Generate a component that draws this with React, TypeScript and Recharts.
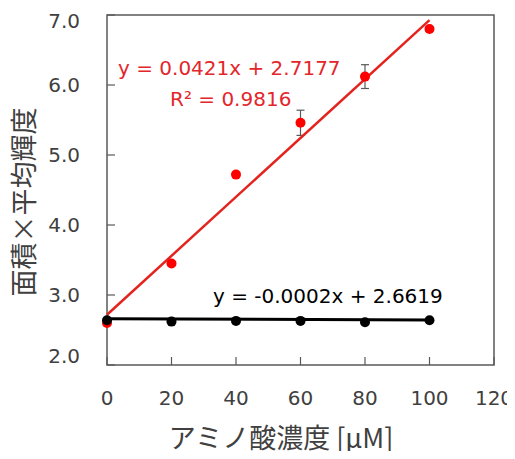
import React from "react";
import {
  ComposedChart,
  Scatter,
  ErrorBar,
  XAxis,
  YAxis,
  ReferenceArea,
} from "recharts";

// measured points (concentration, value, error)
const concentrations = [0, 20, 40, 60, 80, 100];
const redValues = [2.6, 3.45, 4.72, 5.46, 6.12, 6.8];
const redErrors = [0.03, 0.03, 0.03, 0.18, 0.17, 0.03];
const blackValues = [2.64, 2.62, 2.63, 2.63, 2.61, 2.64];
const blackErrors = [0.02, 0.02, 0.02, 0.02, 0.02, 0.02];

// linear trend lines, endpoints from the printed equations
const redTrend = [
  { x: 0, y: 2.7177 },
  { x: 100, y: 6.9277 },
];
const blackTrend = [
  { x: 0, y: 2.6619 },
  { x: 100, y: 2.6419 },
];

const xTicks = [0, 20, 40, 60, 80, 100, 120];
const yTicks = [2, 3, 4, 5, 6, 7];

const redData = concentrations.map((x, i) => ({ x, y: redValues[i], err: redErrors[i] }));
const blackData = concentrations.map((x, i) => ({ x, y: blackValues[i], err: blackErrors[i] }));

const RED = "#ff0000";
const RED_LINE = "#e3231e";
const RED_TEXT = "#e3262b";
const AXIS = "#595959";
const TEXT = "#404040";
const FONT = "'DejaVu Sans', sans-serif";
const CJK = "'Noto Sans CJK JP', sans-serif";

const W = 507;
const H = 443;

const dot = (fill: string, r: number) => (props: any) =>
  <circle cx={props.cx} cy={props.cy} r={r} fill={fill} />;

// end labels are kept inside the axis range, like the original
const YTick = (props: any) => {
  const v = Number(props.payload.value);
  const shift = v === 7 ? 4 : v === 2 ? -9 : 0;
  return (
    <text x={72} y={props.y + shift} dy="0.355em" textAnchor="end" fill={TEXT} fontSize={20} fontFamily={FONT}>
      {v.toFixed(1)}
    </text>
  );
};

export default function App() {
  return (
    <div style={{ position: "relative", width: W, height: H }}>
      <ComposedChart
        width={W}
        height={H}
        margin={{ top: 7, right: 21, left: 39, bottom: 26 }}>
        <XAxis
          type="number"
          dataKey="x"
          domain={[0, 120]}
          ticks={xTicks}
          height={60}
          axisLine={false}
          tickLine={{ stroke: AXIS, strokeWidth: 1.2 }}
          tickSize={-8}
          tickMargin={34}
          tick={{ fill: TEXT, fontSize: 20, fontFamily: FONT }} />
        <YAxis
          type="number"
          dataKey="y"
          domain={[2, 7]}
          ticks={yTicks}
          width={60}
          axisLine={false}
          tickLine={{ stroke: AXIS, strokeWidth: 1.2 }}
          tickSize={-8}
          tick={<YTick />} />
        <ReferenceArea x1={0} x2={120} y1={2} y2={7} fill="none" stroke={AXIS} strokeWidth={1.5} />
        <Scatter data={redTrend} line={{ stroke: RED_LINE, strokeWidth: 2.5 }} shape={() => null} isAnimationActive={false} />
        <Scatter data={blackTrend} line={{ stroke: "#000000", strokeWidth: 3 }} shape={() => null} isAnimationActive={false} />
        <Scatter data={redData} shape={dot(RED, 5)} isAnimationActive={false}>
          <ErrorBar dataKey="err" direction="y" width={4} stroke={AXIS} strokeWidth={1.2} />
        </Scatter>
        <Scatter data={blackData} shape={dot("#000000", 5)} isAnimationActive={false}>
          <ErrorBar dataKey="err" direction="y" width={4} stroke={AXIS} strokeWidth={1.2} />
        </Scatter>
      </ComposedChart>
      <svg width={W} height={H} style={{ position: "absolute", left: 0, top: 0, overflow: "visible", pointerEvents: "none" }}>
        <text x={110} y={67} fill={RED_TEXT} fontSize={20} fontFamily={FONT}>y = 0.0421x + 2.7177</text>
        <text x={162} y={98} fill={RED_TEXT} fontSize={20} fontFamily={FONT}>R² = 0.9816</text>
        <text x={205} y={295} fill="#000000" fontSize={20} fontFamily={FONT}>y = -0.0002x + 2.6619</text>
        <text x={273} y={440} fill={TEXT} fontSize={27} fontFamily={CJK} textAnchor="middle">アミノ酸濃度 [μM]</text>
        <text x={14} y={194} fill={TEXT} fontSize={27} fontFamily={CJK} textAnchor="middle"
          dominantBaseline="central" transform="rotate(-90 14 194)">面積×平均輝度</text>
      </svg>
    </div>
  );
}
